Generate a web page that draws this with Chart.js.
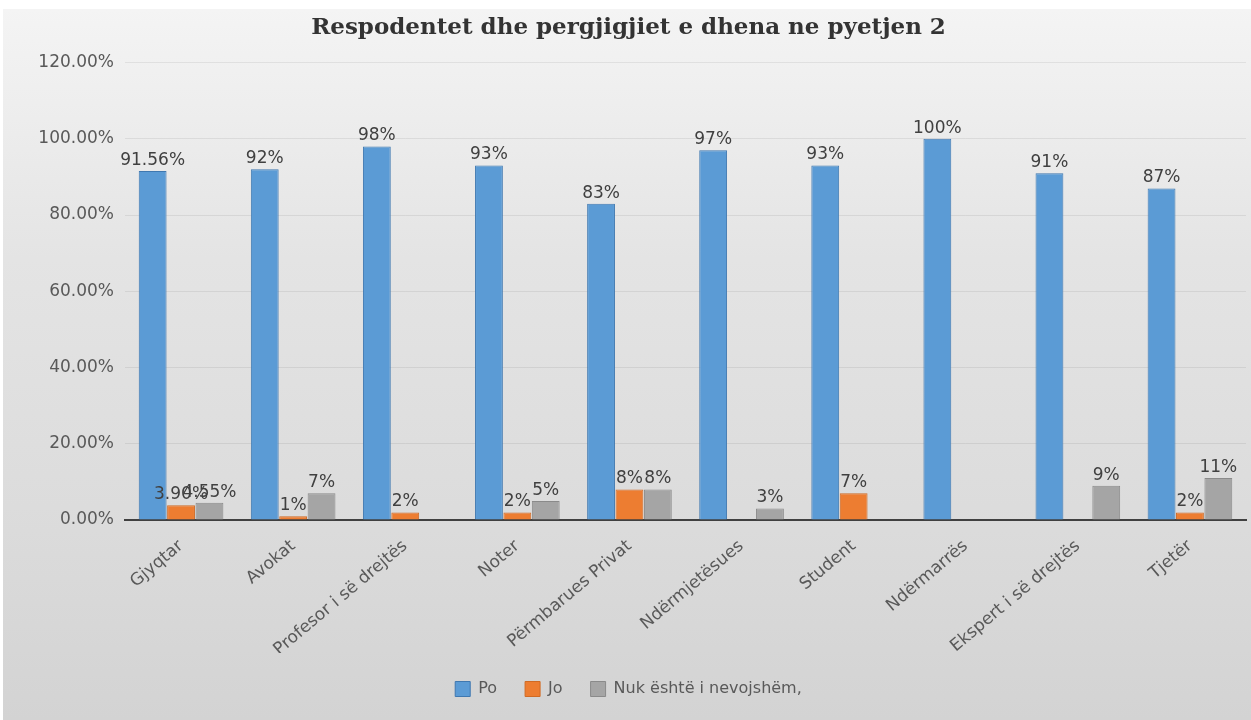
<!DOCTYPE html>
<html>
<head>
<meta charset="utf-8">
<script src="https://cdn.jsdelivr.net/npm/chart.js@4"></script>
<style>
  body { margin: 0; background: #ffffff; }
  #wrap {
    position: absolute; left: 3px; top: 9px; width: 1248px; height: 711px;
    background: linear-gradient(to bottom, #f4f4f4 0%, #e4e4e4 35%, #dcdcdc 70%, #d3d3d3 100%);
  }
</style>
</head>
<body>
<div id="wrap"><canvas id="chart"></canvas></div>
<script>
// Chart data (values in percent)
const categories = ['Gjyqtar', 'Avokat', 'Profesor i së drejtës', 'Noter', 'Përmbarues Privat',
    'Ndërmjetësues', 'Student', 'Ndërmarrës', 'Ekspert i së drejtës', 'Tjetër'];
const poValues = [91.56, 92, 98, 93, 83, 97, 93, 100, 91, 87];
const joValues = [3.90, 1, 2, 2, 8, 0, 7, 0, 0, 2];
const nukValues = [4.55, 7, 0, 5, 8, 3, 0, 0, 9, 11];
const yTicks = [0, 20, 40, 60, 80, 100, 120];

const fontFamily = '"DejaVu Sans", "Open Sans", sans-serif';

// Format label like Excel did: integers without decimals, the rest with two
function fmt(v) {
    return Number.isInteger(v) ? v + '%' : v.toFixed(2) + '%';
}

// Draw value labels above each bar
const barLabels = {
    id: 'barLabels',
    afterDatasetsDraw(chart) {
        const ctx = chart.ctx;
        ctx.save();
        ctx.font = '17px ' + fontFamily;
        ctx.fillStyle = '#404040';
        ctx.textAlign = 'center';
        ctx.textBaseline = 'bottom';
        chart.data.datasets.forEach((ds, i) => {
            const meta = chart.getDatasetMeta(i);
            meta.data.forEach((bar, j) => {
                const v = ds.data[j];
                if (!v) return;
                ctx.fillText(fmt(v), bar.x, bar.y - 2);
            });
        });
        ctx.restore();
    }
};

new Chart(document.getElementById('chart'), {
    type: 'bar',
    data: {
        labels: categories,
        datasets: [
            {
                label: 'Po',
                data: poValues,
                backgroundColor: '#5b9bd5',
                borderColor: '#3f78b0',
                borderWidth: 1
            },
            {
                label: 'Jo',
                data: joValues,
                backgroundColor: '#ed7d31',
                borderColor: '#d06a24',
                borderWidth: 1
            },
            {
                label: 'Nuk është i nevojshëm,',
                data: nukValues,
                backgroundColor: '#a5a5a5',
                borderColor: '#8a8a8a',
                borderWidth: 1
            }
        ]
    },
    options: {
        responsive: true,
        maintainAspectRatio: false,
        animation: false,
        datasets: {
            bar: { categoryPercentage: 0.76, barPercentage: 0.98 }
        },
        layout: { padding: { left: 8, right: 5, top: 0, bottom: 13 } },
        plugins: {
            title: {
                display: true,
                text: 'Respodentet dhe pergjigjiet e dhena ne pyetjen 2',
                color: '#333333',
                font: { family: '"DejaVu Serif", "Liberation Serif", serif', size: 23, weight: 'bold' },
                padding: { top: 5, bottom: 21 }
            },
            legend: {
                display: true,
                position: 'bottom',
                labels: {
                    color: '#595959',
                    font: { family: fontFamily, size: 16 },
                    boxWidth: 15,
                    boxHeight: 15,
                    padding: 28
                }
            },
            tooltip: { enabled: false }
        },
        scales: {
            x: {
                grid: { display: false },
                border: { display: true, color: '#404040', width: 2 },
                afterFit(scale) {
                    scale.height = 133;
                },
                ticks: {
                    color: '#595959',
                    font: { family: fontFamily, size: 17 },
                    maxRotation: 40,
                    minRotation: 40,
                    padding: 8
                }
            },
            y: {
                min: 0,
                max: 120,
                grid: { color: 'rgba(0,0,0,0.07)', drawTicks: false },
                border: { display: false },
                afterBuildTicks(scale) {
                    scale.ticks = yTicks.map(v => ({ value: v }));
                },
                afterFit(scale) {
                    scale.width = 114;
                },
                ticks: {
                    color: '#595959',
                    font: { family: fontFamily, size: 17 },
                    padding: 11,
                    callback: v => v.toFixed(2) + '%'
                }
            }
        }
    },
    plugins: [barLabels]
});
</script>
</body>
</html>
